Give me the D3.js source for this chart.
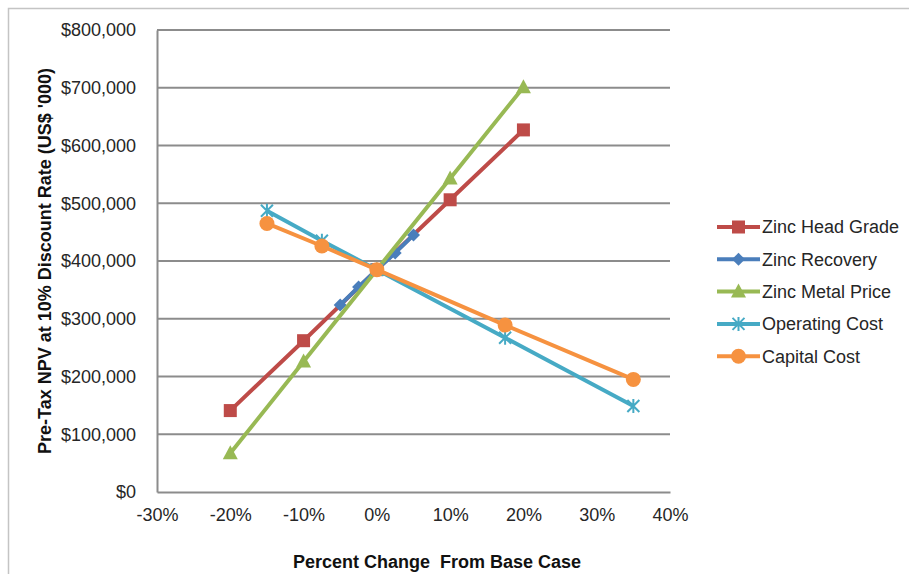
<!DOCTYPE html>
<html>
<head>
<meta charset="utf-8">
<script src="https://cdn.jsdelivr.net/npm/d3@7"></script>
<style>
  html, body { margin: 0; padding: 0; background: #fff; }
  svg { display: block; font-family: "Liberation Sans", Arial, sans-serif; }
</style>
</head>
<body>
<svg id="chart" width="909" height="574"></svg>
<script>
// Sensitivity of pre-tax NPV (US$ '000) to changes in key inputs
const seriesNames = ["Zinc Head Grade", "Zinc Recovery", "Zinc Metal Price", "Operating Cost", "Capital Cost"];
const headGradeX   = [-20, -10, 0, 10, 20];
const headGradeY   = [141000, 262000, 385000, 506000, 627000];
const recoveryX    = [-5, -2.5, 0, 2.5, 5];
const recoveryY    = [324000, 355000, 385000, 414000, 445000];
const metalPriceX  = [-20, -10, 0, 10, 20];
const metalPriceY  = [67000, 226000, 385000, 543000, 701000];
const operatingX   = [-15, -7.5, 0, 17.5, 35];
const operatingY   = [487000, 435000, 385000, 267000, 149000];
const capitalX     = [-15, -7.5, 0, 17.5, 35];
const capitalY     = [465000, 426000, 385000, 289000, 195000];
const xTicks = [-30, -20, -10, 0, 10, 20, 30, 40];
const yTicks = [0, 100000, 200000, 300000, 400000, 500000, 600000, 700000, 800000];

const colors  = ["#BE4B48", "#4A7EBB", "#98B954", "#46AAC5", "#F69240"];
const symbols = ["square", "diamond", "triangle", "asterisk", "circle"];
const xs = [headGradeX, recoveryX, metalPriceX, operatingX, capitalX];
const ys = [headGradeY, recoveryY, metalPriceY, operatingY, capitalY];

const svg = d3.select("#chart");
const plot = { left: 157, right: 670, top: 30, bottom: 492 };

// outer chart frame
svg.append("rect").attr("x", 8.5).attr("y", 8.5).attr("width", 960).attr("height", 620)
  .attr("fill", "none").attr("stroke", "#c4c4c4").attr("stroke-width", 1.5);

const x = d3.scaleLinear().domain([-30, 40]).range([plot.left, plot.right]);
const y = d3.scaleLinear().domain([0, 800000]).range([plot.bottom, plot.top]);

// horizontal gridlines
svg.append("g").selectAll("line").data(yTicks.filter(d => d > 0)).join("line")
  .attr("x1", plot.left).attr("x2", plot.right)
  .attr("y1", d => y(d)).attr("y2", d => y(d))
  .attr("stroke", "#8c8c8c").attr("stroke-width", 2);

// axes
const yAxis = svg.append("g").attr("transform", `translate(${plot.left},0)`)
  .call(d3.axisLeft(y).tickValues(yTicks).tickSize(0).tickPadding(21)
    .tickFormat(d => "$" + d3.format(",")(d)));
const xAxis = svg.append("g").attr("transform", `translate(0,${plot.bottom})`)
  .call(d3.axisBottom(x).tickValues(xTicks).tickSize(0).tickPadding(16)
    .tickFormat(d => d + "%"));
[yAxis, xAxis].forEach(g => {
  g.select(".domain").attr("stroke", "#8c8c8c").attr("stroke-width", 2);
  g.selectAll("text").attr("font-size", 18).attr("fill", "#262626")
    .attr("font-family", "Liberation Sans, Arial, sans-serif");
});

// axis titles
svg.append("text").attr("x", 437).attr("y", 568)
  .attr("text-anchor", "middle").attr("font-size", 18).attr("font-weight", "bold").attr("fill", "#111")
  .attr("xml:space", "preserve").style("white-space", "pre")
  .text("Percent Change  From Base Case");
svg.append("text").attr("transform", `translate(51,${(plot.top + plot.bottom) / 2}) rotate(-90)`)
  .attr("text-anchor", "middle").attr("font-size", 18).attr("font-weight", "bold").attr("fill", "#111")
  .text("Pre-Tax NPV at 10% Discount Rate (US$ '000)");

// marker drawing
function drawMarker(g, kind, color) {
  if (kind === "square") {
    g.append("rect").attr("x", -6.5).attr("y", -6.5).attr("width", 13).attr("height", 13).attr("fill", color);
  } else if (kind === "diamond") {
    g.append("path").attr("d", "M0,-6.5L6.5,0L0,6.5L-6.5,0Z").attr("fill", color);
  } else if (kind === "triangle") {
    g.append("path").attr("d", "M0,-8L7.5,6L-7.5,6Z").attr("fill", color);
  } else if (kind === "asterisk") {
    g.append("path").attr("d", "M-6,-6L6,6M-6,6L6,-6M0,-7L0,7")
      .attr("stroke", color).attr("stroke-width", 2).attr("fill", "none");
  } else {
    g.append("circle").attr("r", 7.5).attr("fill", color);
  }
}

const line = d3.line().x(d => x(d[0])).y(d => y(d[1]));

seriesNames.forEach((name, i) => {
  const pts = xs[i].map((v, k) => [v, ys[i][k]]);
  const g = svg.append("g");
  g.append("path").datum(pts).attr("d", line)
    .attr("fill", "none").attr("stroke", colors[i]).attr("stroke-width", 4)
    .attr("stroke-linejoin", "round");
  pts.forEach(p => {
    const m = g.append("g").attr("transform", `translate(${x(p[0])},${y(p[1])})`);
    drawMarker(m, symbols[i], colors[i]);
  });
});

// legend
const legend = svg.append("g");
seriesNames.forEach((name, i) => {
  const ly = 227 + i * 32.3;
  const item = legend.append("g").attr("transform", `translate(717,${ly})`);
  item.append("line").attr("x1", 0).attr("x2", 43).attr("stroke", colors[i]).attr("stroke-width", 4);
  const m = item.append("g").attr("transform", "translate(21.5,0)");
  drawMarker(m, symbols[i], colors[i]);
  item.append("text").attr("x", 45).attr("y", 0).attr("dy", "0.35em")
    .attr("font-size", 18).attr("fill", "#262626").text(name);
});
</script>
</body>
</html>
